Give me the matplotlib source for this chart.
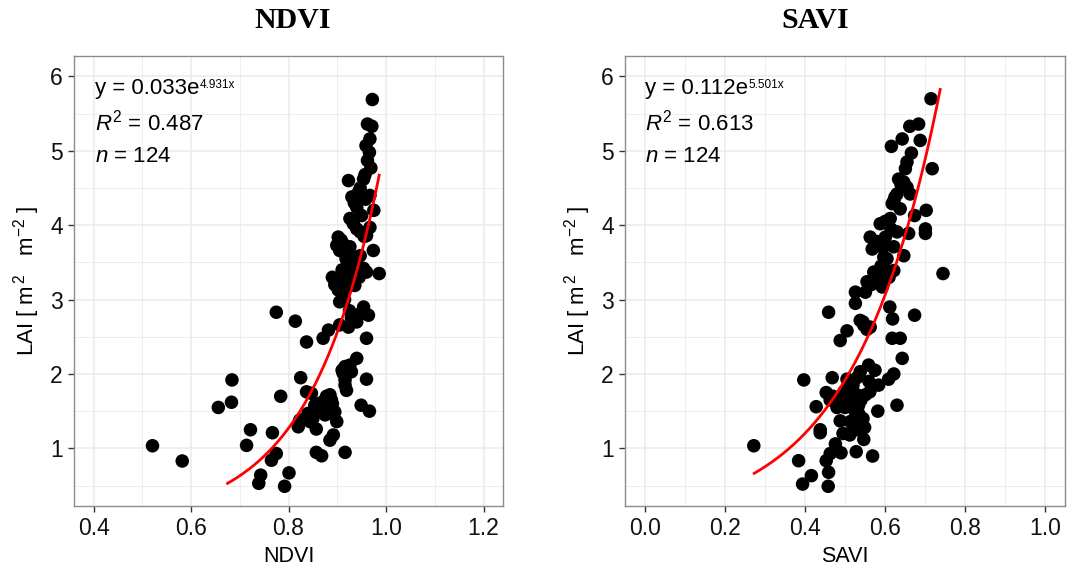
import numpy as np
import matplotlib
matplotlib.use('Agg')
import matplotlib.pyplot as plt

plt.rcParams['font.family'] = ['Liberation Sans', 'DejaVu Sans']
plt.rcParams['mathtext.fontset'] = 'custom'
plt.rcParams['mathtext.rm'] = 'Liberation Sans'
plt.rcParams['mathtext.it'] = 'Liberation Sans:italic'

# ---------------- data ----------------
ndvi = [0.972, 0.962, 0.971, 0.967, 0.959, 0.966, 0.962, 0.969, 0.923, 0.954,
        0.947, 0.967, 0.930, 0.940, 0.975, 0.950, 0.926, 0.933, 0.967, 0.944,
        0.957, 0.947, 0.960, 0.902, 0.899, 0.912, 0.905, 0.926, 0.929, 0.974,
        0.947, 0.954, 0.960, 0.926, 0.919, 0.986, 0.890, 0.912, 0.936, 0.902,
        0.919, 0.950, 0.940, 0.908, 0.955, 0.905, 0.954, 0.947, 0.964, 0.929,
        0.905, 0.923, 0.960, 0.882, 0.871, 0.775, 0.814, 0.837, 0.915, 0.940,
        0.926, 0.916, 0.912, 0.929, 0.916, 0.919, 0.960, 0.825, 0.916, 0.684,
        0.949, 0.966, 0.837, 0.847, 0.885, 0.888, 0.871, 0.854, 0.878, 0.895,
        0.840, 0.882, 0.784, 0.683, 0.656, 0.878, 0.860, 0.823, 0.844, 0.899,
        0.820, 0.857, 0.892, 0.885, 0.857, 0.868, 0.916, 0.722, 0.714, 0.767,
        0.775, 0.765, 0.743, 0.739, 0.801, 0.792, 0.521, 0.582, 0.935, 0.958,
        0.940, 0.918, 0.935, 0.910, 0.945, 0.928, 0.895, 0.925, 0.940, 0.910,
        0.890, 0.865, 0.875, 0.850]
lai_ndvi = [5.69, 5.36, 5.33, 5.16, 5.07, 4.98, 4.87, 4.77, 4.60, 4.62,
            4.50, 4.40, 4.38, 4.24, 4.20, 4.13, 4.09, 4.02, 3.97, 4.45,
            4.68, 3.91, 3.86, 3.84, 3.73, 3.75, 3.66, 3.71, 3.59, 3.66,
            3.59, 3.42, 3.37, 3.39, 3.35, 3.35, 3.30, 3.26, 3.19, 3.13,
            3.15, 3.38, 3.45, 3.80, 3.85, 2.97, 2.90, 2.81, 2.79, 2.75,
            2.66, 2.63, 2.48, 2.59, 2.48, 2.83, 2.71, 2.43, 3.00, 2.21,
            2.12, 2.10, 2.01, 2.03, 1.92, 1.78, 1.93, 1.95, 1.85, 1.92,
            1.58, 1.50, 1.76, 1.74, 1.72, 1.65, 1.63, 1.58, 1.54, 1.49,
            1.47, 1.47, 1.70, 1.62, 1.55, 1.70, 1.60, 1.38, 1.36, 1.36,
            1.29, 1.26, 1.18, 1.11, 0.946, 0.90, 0.946, 1.25, 1.04, 1.21,
            0.93, 0.84, 0.64, 0.53, 0.67, 0.49, 1.035, 0.83, 4.30, 4.35,
            3.95, 3.55, 3.50, 3.40, 3.30, 3.25, 3.20, 2.85, 2.70, 2.05,
            1.60, 1.50, 1.45, 1.40]

savi = [0.715, 0.662, 0.684, 0.643, 0.688, 0.616, 0.666, 0.655, 0.651, 0.718,
        0.634, 0.647, 0.655, 0.663, 0.630, 0.622, 0.618, 0.638, 0.703, 0.674,
        0.613, 0.588, 0.701, 0.701, 0.630, 0.659, 0.601, 0.563, 0.576, 0.568,
        0.622, 0.647, 0.597, 0.572, 0.588, 0.605, 0.622, 0.745, 0.584, 0.555,
        0.593, 0.526, 0.551, 0.526, 0.612, 0.619, 0.674, 0.459, 0.538, 0.547,
        0.563, 0.505, 0.488, 0.618, 0.638, 0.643, 0.559, 0.538, 0.622, 0.609,
        0.397, 0.468, 0.505, 0.584, 0.562, 0.551, 0.453, 0.497, 0.530, 0.463,
        0.493, 0.513, 0.534, 0.428, 0.630, 0.582, 0.534, 0.488, 0.513, 0.438,
        0.438, 0.530, 0.549, 0.512, 0.547, 0.476, 0.272, 0.490, 0.463, 0.528,
        0.569, 0.384, 0.453, 0.416, 0.459, 0.394, 0.458, 0.640, 0.625, 0.600,
        0.615, 0.580, 0.595, 0.605, 0.590, 0.575, 0.610, 0.565, 0.545, 0.555,
        0.520, 0.505, 0.515, 0.540, 0.500, 0.525, 0.545, 0.470, 0.480, 0.520,
        0.495, 0.560, 0.575, 0.530]
lai_savi = [5.70, 5.33, 5.36, 5.16, 5.14, 5.06, 4.97, 4.85, 4.76, 4.76,
            4.62, 4.58, 4.51, 4.42, 4.42, 4.33, 4.29, 4.22, 4.20, 4.13,
            4.09, 4.02, 3.95, 3.89, 3.91, 3.89, 3.84, 3.84, 3.75, 3.68,
            3.71, 3.59, 3.57, 3.37, 3.35, 3.39, 3.39, 3.35, 3.26, 3.24,
            3.17, 3.10, 3.10, 2.95, 2.90, 2.74, 2.79, 2.83, 2.72, 2.655,
            2.63, 2.58, 2.45, 2.48, 2.48, 2.21, 2.12, 2.03, 2.00, 1.93,
            1.92, 1.95, 1.93, 1.85, 1.76, 1.72, 1.75, 1.76, 1.72, 1.65,
            1.63, 1.60, 1.58, 1.56, 1.58, 1.50, 1.47, 1.37, 1.36, 1.25,
            1.21, 1.25, 1.28, 1.18, 1.12, 1.06, 1.035, 0.94, 0.93, 0.955,
            0.897, 0.834, 0.834, 0.633, 0.678, 0.52, 0.49, 4.55, 4.38, 4.05,
            3.95, 3.78, 3.70, 3.55, 3.45, 3.30, 3.30, 3.20, 2.70, 2.60,
            1.85, 1.80, 1.70, 1.65, 1.55, 1.50, 1.40, 1.70, 1.55, 1.30,
            1.20, 1.90, 2.05, 1.95]

# fitted curves as drawn (a * exp(b * x)) and their x-extents
ndvi_fit = dict(a=0.0047, b=7.0, xmin=0.675, xmax=0.986)
savi_fit = dict(a=0.1856, b=4.67, xmin=0.273, xmax=0.738)

ndvi_label = ("0.033", "4.931x", "0.487", "124")
savi_label = ("0.112", "5.501x", "0.613", "124")

ndvi_xticks = [0.4, 0.6, 0.8, 1.0, 1.2]
savi_xticks = [0.0, 0.2, 0.4, 0.6, 0.8, 1.0]
yticks = [1, 2, 3, 4, 5, 6]

# ---------------- figure ----------------
W, H = 1067, 567
fig = plt.figure(figsize=(W / 100, H / 100), dpi=100)

def make_ax(left_px, right_px):
    top_px, bot_px = 56, 506
    return fig.add_axes([left_px / W, 1 - bot_px / H,
                         (right_px - left_px) / W, (bot_px - top_px) / H])

ax1 = make_ax(74, 503)
ax2 = make_ax(625, 1065)

grid_col = '#EBEBEB'
border_col = '#8C8C8C'

def style(ax, xticks, xlim, xlabel):
    ax.set_xlim(*xlim)
    ax.set_ylim(0.225, 6.275)
    ax.set_xticks(xticks)
    ax.set_xticklabels([f"{t:.1f}" for t in xticks])
    ax.set_yticks(yticks)
    ax.set_yticklabels([str(t) for t in yticks])
    step = xticks[1] - xticks[0]
    minors = [xticks[0] - step / 2] + [t + step / 2 for t in xticks]
    ax.set_xticks([m for m in minors if xlim[0] < m < xlim[1]], minor=True)
    ax.set_yticks([y - 0.5 for y in yticks], minor=True)
    ax.grid(True, which='major', color=grid_col, linewidth=1.1, zorder=0)
    ax.grid(True, which='minor', color=grid_col, linewidth=0.6, zorder=0)
    ax.set_axisbelow(True)
    ax.tick_params(which='minor', length=0)
    ax.tick_params(which='major', length=4, width=1, color='#333333',
                   labelsize=16.5, labelcolor='#111111', pad=4)
    for s in ax.spines.values():
        s.set_color(border_col)
        s.set_linewidth(1.0)
    ax.set_xlabel(xlabel, fontsize=15.5, labelpad=4)
    ax.set_ylabel(r'LAI [ m$^{\,2}$   m$^{-2}$ ]', fontsize=16, labelpad=6)

style(ax1, ndvi_xticks, (0.36, 1.24), 'NDVI')
style(ax2, savi_xticks, (-0.05, 1.05), 'SAVI')

for ax, xs, ys, fit, lab, x0 in [(ax1, ndvi, lai_ndvi, ndvi_fit, ndvi_label, 0.403),
                                 (ax2, savi, lai_savi, savi_fit, savi_label, 0.0)]:
    ax.scatter(xs, ys, s=95, color='black', edgecolors='none', zorder=3)
    xx = np.linspace(fit['xmin'], fit['xmax'], 200)
    ax.plot(xx, fit['a'] * np.exp(fit['b'] * xx), color='#FF0000', lw=2.0, zorder=4)
    t = ax.text(x0, 5.84, f"y = {lab[0]}e", fontsize=16, ha='left', va='center', zorder=5)
    ax.annotate(lab[1], xy=(1.0, 0.95), xycoords=t, fontsize=8.5,
                ha='left', va='top', zorder=5)
    ax.text(x0, 5.38, r'$R^2$ = ' + lab[2], fontsize=16, ha='left', va='center', zorder=5)
    ax.text(x0, 4.92, r'$n$ = ' + lab[3], fontsize=16, ha='left', va='center', zorder=5)

fig.text(293 / W, 1 - 20 / H, 'NDVI', fontsize=21.5, fontweight='bold',
         family='Liberation Serif', ha='center', va='center')
fig.text(815 / W, 1 - 20 / H, 'SAVI', fontsize=21.5, fontweight='bold',
         family='Liberation Serif', ha='center', va='center')

fig.savefig('out.png', dpi=100)
